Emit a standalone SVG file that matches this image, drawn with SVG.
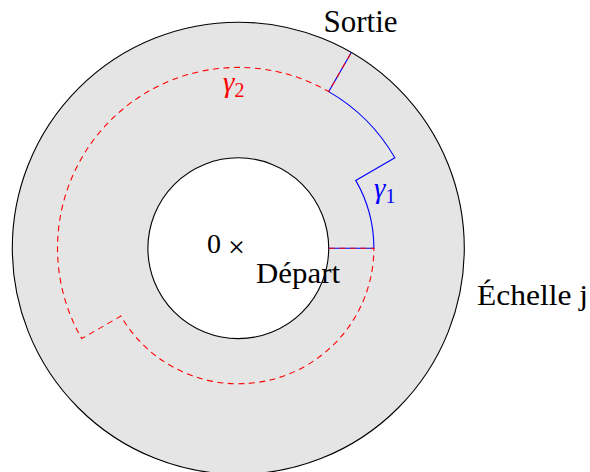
<svg xmlns="http://www.w3.org/2000/svg" width="590" height="472" viewBox="0 0 590 472">
<style>
.ring{stroke:#000;stroke-width:1.1}
.blue{fill:none;stroke:#0000ff;stroke-width:1.1}
.red{fill:none;stroke:#ff0000;stroke-width:1.1;stroke-dasharray:6 4.5}
</style>
<rect width="590" height="472" fill="#fff"/>
<g id="annulus">
<circle cx="238.3" cy="248.2" r="226" fill="#e5e5e5" class="ring"/>
<circle cx="238.3" cy="248.2" r="90.4" fill="#fff" class="ring"/>
</g>
<g id="connectors">
<path id="gamma1" class="blue" d="M328.7,248.2 L373.9,248.2 A135.6,135.6 0 0 0 355.73,180.4 L394.87,157.8 A180.8,180.8 0 0 0 328.7,91.63 L351.3,52.48"/>
<path id="gamma2" class="red" d="M328.7,248.2 L373.9,248.2 A135.6,135.6 0 0 1 120.87,316 L81.73,338.6 A180.8,180.8 0 0 1 328.7,91.63 L351.3,52.48"/>
</g>
<g id="labels" font-family="'Liberation Serif', 'Times New Roman', 'DejaVu Serif', serif" fill="#000">
<text x="360.5" y="32" font-size="31" text-anchor="middle">Sortie</text>
<text x="207" y="253" font-size="28">0</text>
<text x="236.5" y="257" font-size="30" text-anchor="middle">×</text>
<text x="256" y="283" font-size="29" textLength="84" lengthAdjust="spacingAndGlyphs">Départ</text>
<text x="477" y="305" font-size="30" textLength="111" lengthAdjust="spacingAndGlyphs">Échelle j</text>
<text x="374" y="198" font-size="29" font-style="italic" fill="#0000ff">γ<tspan font-style="normal" font-size="20" dy="5">1</tspan></text>
<text x="223" y="92" font-size="29" font-style="italic" fill="#ff0000">γ<tspan font-style="normal" font-size="20" dy="5">2</tspan></text>
</g>
</svg>
